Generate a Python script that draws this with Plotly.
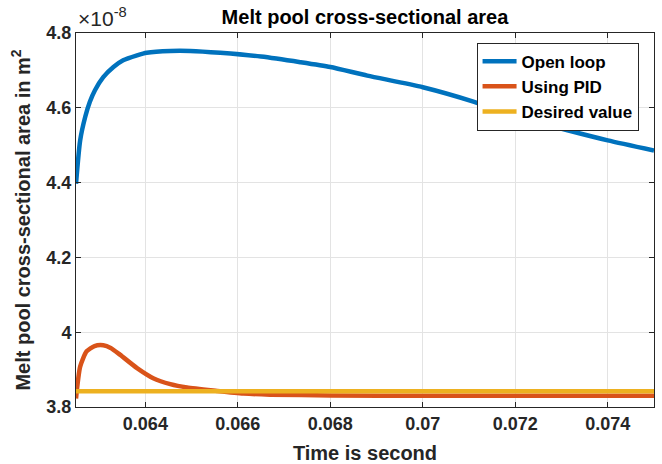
import plotly.graph_objects as go

# Time (s)
t_open = [0.0625, 0.06259, 0.0627, 0.0628, 0.06291, 0.06309, 0.06331, 0.06352, 0.06382,
          0.06403, 0.06454, 0.06497, 0.06562, 0.0665, 0.06735, 0.068, 0.0688, 0.07,
          0.07111, 0.072, 0.07313, 0.074, 0.075]
# Area (x 1e-8 m^2)
a_open = [4.397, 4.513, 4.576, 4.616, 4.647, 4.682, 4.709, 4.727, 4.740,
          4.747, 4.752, 4.752, 4.747, 4.737, 4.722, 4.709, 4.686, 4.655,
          4.616, 4.578, 4.540, 4.513, 4.486]

t_pid = [0.0625, 0.06259, 0.06273, 0.0629, 0.06309, 0.06325, 0.06345, 0.06382, 0.06417,
         0.06454, 0.0649, 0.06555, 0.06612, 0.0667, 0.068, 0.07, 0.075]
a_pid = [3.823, 3.908, 3.949, 3.963, 3.965, 3.958, 3.940, 3.904, 3.877,
         3.861, 3.852, 3.843, 3.836, 3.833, 3.831, 3.830, 3.830]

t_des = [0.0625, 0.075]
a_des = [3.842, 3.842]

x_ticks = [0.064, 0.066, 0.068, 0.070, 0.072, 0.074]
x_ticktext = ["0.064", "0.066", "0.068", "0.07", "0.072", "0.074"]
y_ticks = [3.8, 4.0, 4.2, 4.4, 4.6, 4.8]
y_ticktext = ["3.8", "4", "4.2", "4.4", "4.6", "4.8"]

FONT = "Liberation Sans, Arial, Helvetica, sans-serif"
AX = "#262626"

fig = go.Figure()
fig.add_trace(go.Scatter(x=t_open, y=a_open, mode="lines", name="Open loop",
                         line=dict(color="#0072BD", width=4.5, shape="spline", smoothing=0.6)))
fig.add_trace(go.Scatter(x=t_pid, y=a_pid, mode="lines", name="Using PID",
                         line=dict(color="#D95319", width=4.5, shape="spline", smoothing=0.6)))
fig.add_trace(go.Scatter(x=t_des, y=a_des, mode="lines", name="Desired value",
                         line=dict(color="#EDB120", width=4.5)))

axis_common = dict(
    showline=True, linecolor=AX, linewidth=1, mirror="ticks",
    ticks="inside", ticklen=5, tickcolor=AX, tickwidth=1,
    showgrid=True, gridcolor="#e3e3e3", gridwidth=1, zeroline=False,
    automargin=False,
    tickfont=dict(family=FONT, size=18, color=AX, weight="bold"),
)

fig.update_xaxes(range=[0.0625, 0.075], tickvals=x_ticks, ticktext=x_ticktext,
                 title=dict(text="Time is second", standoff=13,
                            font=dict(family=FONT, size=20, color=AX, weight="bold")),
                 **axis_common)
fig.update_yaxes(range=[3.8, 4.8], tickvals=y_ticks, ticktext=y_ticktext,
                 title=dict(text="Melt pool cross-sectional area in m<sup>2</sup>", standoff=10,
                            font=dict(family=FONT, size=20, color=AX, weight="bold")),
                 **axis_common)

fig.update_layout(
    width=662, height=464,
    margin=dict(l=76, r=8, t=33, b=57),
    paper_bgcolor="white", plot_bgcolor="white",
    title=dict(text="Melt pool cross-sectional area", x=0.5, xref="paper",
               y=1 - 17 / 464, yref="container", yanchor="middle",
               font=dict(family=FONT, size=20, color="black", weight="bold")),
    showlegend=True,
    legend=dict(x=0.693, y=0.974, xanchor="left", yanchor="top",
                bgcolor="white", bordercolor=AX, borderwidth=1,
                font=dict(family=FONT, size=17, color="black", weight="bold"),
                tracegroupgap=0, itemwidth=34),
    annotations=[dict(text="×10<sup>-8</sup>", xref="paper", yref="paper",
                      x=0.0, y=1.0, xanchor="left", yanchor="bottom", yshift=1,
                      showarrow=False,
                      font=dict(family=FONT, size=21, color=AX))],
)

fig.write_html("out.html")
